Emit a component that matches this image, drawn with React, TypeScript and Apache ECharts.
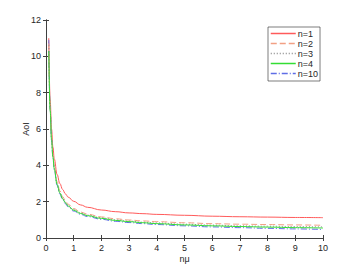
import React, { useEffect, useRef } from "react";
import * as echarts from "echarts";

const xs = [0.1, 0.15, 0.2, 0.25, 0.3, 0.4, 0.5, 0.6, 0.7, 0.8, 1, 1.25, 1.5, 2, 2.5, 3, 3.5, 4, 5, 6, 7, 8, 9, 10];
const n1 = [11.0, 7.6, 6.0, 5.0, 4.35, 3.5, 3.0, 2.67, 2.43, 2.25, 2.02, 1.82, 1.69, 1.54, 1.45, 1.38, 1.34, 1.3, 1.25, 1.2, 1.17, 1.15, 1.13, 1.12];
const n2 = [10.7, 7.2, 5.6, 4.6, 3.95, 3.1, 2.6, 2.28, 2.04, 1.86, 1.62, 1.43, 1.31, 1.16, 1.06, 0.99, 0.94, 0.9, 0.84, 0.79, 0.76, 0.74, 0.72, 0.7];
const n3 = [10.6, 7.1, 5.5, 4.5, 3.85, 3.0, 2.52, 2.2, 1.97, 1.79, 1.56, 1.38, 1.26, 1.11, 1.0, 0.93, 0.87, 0.83, 0.76, 0.71, 0.67, 0.65, 0.63, 0.61];
const n4 = [10.3, 7.0, 5.4, 4.45, 3.8, 2.95, 2.48, 2.16, 1.94, 1.76, 1.53, 1.35, 1.23, 1.08, 0.97, 0.9, 0.84, 0.79, 0.72, 0.67, 0.63, 0.6, 0.57, 0.55];
const n10 = [10.9, 7.1, 5.4, 4.4, 3.75, 2.9, 2.42, 2.11, 1.89, 1.71, 1.48, 1.3, 1.18, 1.03, 0.92, 0.85, 0.79, 0.74, 0.67, 0.61, 0.57, 0.53, 0.5, 0.47];
const seriesNames = ["n=1", "n=2", "n=3", "n=4", "n=10"];
const seriesValues = [n1, n2, n3, n4, n10];
const colors = ["#ff5a5a", "#f2a084", "#8c8c8c", "#33dd33", "#5f6ee6"];
const lineTypes: any[] = ["solid", [6, 3], [1, 2], "solid", [6, 2, 1, 2]];

export default function App() {
  const ref = useRef<HTMLDivElement>(null);
  useEffect(() => {
    const chart = echarts.init(ref.current!, null, { renderer: "svg" });
    const axisColor = "#404040";
    const font = "'Liberation Sans', Arial, sans-serif";
    const xCommon = {
      type: "value" as const,
      min: 0,
      max: 10,
      interval: 1,
      axisLine: { show: true, lineStyle: { color: axisColor, width: 1 } },
      axisTick: { show: true, inside: true, length: 3, lineStyle: { color: axisColor } },
      splitLine: { show: false },
    };
    const yCommon = {
      type: "value" as const,
      min: 0,
      max: 12,
      interval: 2,
      axisLine: { show: true, lineStyle: { color: axisColor, width: 1 } },
      axisTick: { show: true, inside: true, length: 3, lineStyle: { color: axisColor } },
      splitLine: { show: false },
    };
    chart.setOption({
      animation: false,
      backgroundColor: "#ffffff",
      textStyle: { fontFamily: font },
      grid: { left: 46, right: 34, top: 20, bottom: 29, show: false },
      xAxis: [
        {
          ...xCommon,
          position: "bottom",
          name: "nμ",
          nameLocation: "middle",
          nameGap: 16,
          nameMoveOverlap: false,
          nameTextStyle: { fontSize: 9, color: "#262626", fontFamily: font },
          axisLabel: { fontSize: 9, color: "#262626", margin: 5, fontFamily: font },
        },
        { ...xCommon, position: "top", axisLabel: { show: false } },
      ],
      yAxis: [
        {
          ...yCommon,
          position: "left",
          name: "AoI",
          nameLocation: "middle",
          nameGap: 16,
          nameMoveOverlap: false,
          nameTextStyle: { fontSize: 9, color: "#262626", fontFamily: font },
          axisLabel: { fontSize: 9, color: "#262626", margin: 5, fontFamily: font },
        },
        { ...yCommon, position: "right", axisLabel: { show: false } },
      ],
      legend: {
        left: 268,
        top: 27,
        orient: "vertical",
        backgroundColor: "#ffffff",
        borderColor: "#262626",
        borderWidth: 0.6,
        padding: [2, 2, 3, 2],
        itemGap: 1,
        itemWidth: 25,
        itemHeight: 9,
        itemStyle: { opacity: 0 },
        lineStyle: { width: 1.5 },
        textStyle: { fontSize: 9, lineHeight: 9, color: "#262626", fontFamily: font, padding: [0, 0, 0, -3] },
        data: seriesNames,
      },
      series: seriesNames.map((name, i) => ({
        name,
        type: "line",
        xAxisIndex: 0,
        yAxisIndex: 0,
        smooth: 0.4,
        smoothMonotone: "x",
        symbol: "none",
        color: colors[i],
        data: xs.map((x, j) => [x, seriesValues[i][j]]),
        lineStyle: { color: colors[i], width: 1, type: lineTypes[i] },
        itemStyle: { color: colors[i] },
        z: 2 + (i === 4 ? 0 : i),
      })),
    });
    return () => chart.dispose();
  }, []);
  return <div ref={ref} style={{ width: 357, height: 268, position: "absolute", left: 0, top: 0 }} />;
}
